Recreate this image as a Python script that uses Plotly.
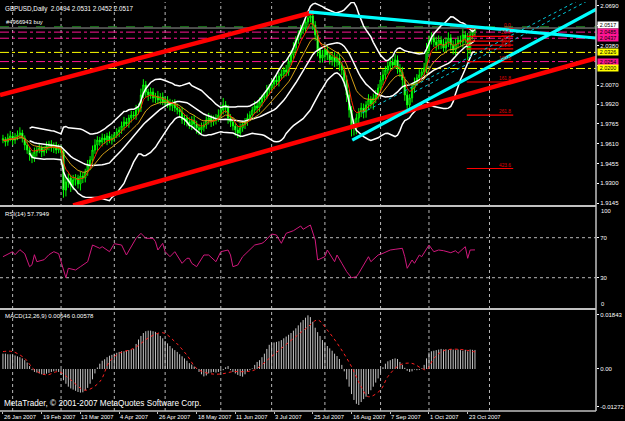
import plotly.graph_objects as go
import pandas as pd

# ---------------- DATA ----------------
date_labels = ["26 Jan 2007", "19 Feb 2007", "13 Mar 2007", "4 Apr 2007", "26 Apr 2007",
               "18 May 2007", "11 Jun 2007", "3 Jul 2007", "25 Jul 2007", "16 Aug 2007",
               "7 Sep 2007", "1 Oct 2007", "23 Oct 2007"]
date_label_bars = [0, 16, 32, 48, 64, 80, 96, 112, 128, 144, 160, 176, 192]
month_start_bars = [4, 24, 46, 67, 90, 111, 133, 156, 176, 201]

first_open = 1.9650
closes = [
    1.9639, 1.9624, 1.9655, 1.9671, 1.9639, 1.9663, 1.9679, 1.9694, 1.9655, 1.9600,
    1.9561, 1.9522, 1.9498, 1.9545, 1.9561, 1.9577, 1.9545, 1.9561, 1.9592, 1.9608,
    1.9577, 1.9600, 1.9561, 1.9577, 1.9545, 1.9247, 1.9310, 1.9342, 1.9287, 1.9326,
    1.9342, 1.9294, 1.9357, 1.9342, 1.9389, 1.9443, 1.9483, 1.9561, 1.9600, 1.9639,
    1.9624, 1.9655, 1.9639, 1.9671, 1.9639, 1.9655, 1.9679, 1.9702, 1.9718, 1.9749,
    1.9781, 1.9765, 1.9812, 1.9835, 1.9828, 1.9875, 1.9890, 1.9992, 2.0071, 2.0016,
    1.9992, 2.0016, 1.9969, 1.9984, 1.9953, 1.9977, 1.9937, 1.9953, 1.9922, 1.9906,
    1.9929, 1.9890, 1.9875, 1.9859, 1.9796, 1.9812, 1.9781, 1.9757, 1.9796, 1.9765,
    1.9734, 1.9718, 1.9741, 1.9757, 1.9796, 1.9812, 1.9781, 1.9796, 1.9812, 1.9835,
    1.9875, 1.9914, 1.9890, 1.9812, 1.9781, 1.9749, 1.9718, 1.9694, 1.9734, 1.9765,
    1.9781, 1.9812, 1.9835, 1.9875, 1.9906, 1.9890, 1.9937, 1.9969, 1.9984, 2.0031,
    2.0047, 2.0078, 2.0110, 2.0094, 2.0141, 2.0157, 2.0188, 2.0173, 2.0251, 2.0306,
    2.0361, 2.0423, 2.0463, 2.0502, 2.0517, 2.0565, 2.0596, 2.0612, 2.0541, 2.0463,
    2.0345, 2.0282, 2.0306, 2.0345, 2.0306, 2.0267, 2.0290, 2.0251, 2.0282, 2.0227,
    2.0188, 2.0110, 1.9992, 1.9875, 1.9757, 1.9734, 1.9812, 1.9859, 1.9890, 1.9859,
    1.9914, 1.9953, 1.9922, 1.9969, 1.9992, 2.0047, 2.0110, 2.0149, 2.0188, 2.0220,
    2.0251, 2.0227, 2.0267, 2.0204, 2.0173, 2.0110, 1.9992, 1.9914, 1.9969, 2.0047,
    2.0094, 2.0126, 2.0149, 2.0173, 2.0204, 2.0345, 2.0423, 2.0439, 2.0408, 2.0384,
    2.0423, 2.0392, 2.0361, 2.0408, 2.0439, 2.0384, 2.0345, 2.0392, 2.0423, 2.0408,
    2.0463, 2.0439, 2.0345, 2.0463, 2.0494, 2.0517]
wick_up_pips = [
    30, 25, 35, 40, 20, 30, 35, 45, 25, 20, 30, 25, 20, 35,
    25, 30, 20, 30, 35, 25, 30, 20, 25, 30, 20, 20, 30, 35,
    25, 40, 30, 25, 35, 30, 25, 40, 30, 35, 45, 30, 25, 35,
    30, 25, 35, 30, 20, 30, 25, 35, 40, 30, 25, 35, 30, 40,
    35, 50, 45, 30, 25, 35, 30, 25, 40, 30, 35, 25, 30, 40,
    25, 30, 35, 25, 40, 30, 25, 35, 30, 40, 25, 30, 35, 25,
    30, 40, 25, 35, 30, 45, 40, 55, 30, 25, 30, 35, 25, 30,
    35, 25, 30, 35, 30, 25, 40, 30, 35, 25, 30, 40, 30, 35,
    25, 40, 30, 35, 25, 40, 30, 35, 45, 30, 35, 40, 30, 35,
    40, 35, 45, 30, 35, 25, 40, 30, 35, 25, 30, 40, 30, 35,
    25, 30, 35, 40, 30, 45, 35, 30, 40, 35, 30, 45, 30, 35,
    40, 30, 35, 45, 30, 35, 40, 30, 45, 35, 30, 40, 25, 35,
    30, 40, 35, 30, 45, 30, 40, 55, 35, 45, 30, 40, 35, 30,
    40, 35, 45, 30, 35, 40, 30, 35, 45, 30, 40, 30, 35, 14]
wick_dn_pips = [
    25, 35, 30, 25, 40, 30, 25, 30, 35, 40, 30, 45, 40, 30,
    35, 25, 40, 30, 25, 35, 30, 40, 30, 25, 35, 60, 50, 45,
    55, 40, 45, 35, 50, 40, 35, 30, 40, 35, 30, 45, 30, 35,
    30, 40, 25, 35, 30, 25, 40, 30, 35, 25, 30, 35, 25, 30,
    35, 30, 25, 40, 45, 30, 35, 40, 30, 35, 25, 40, 30, 35,
    40, 30, 35, 45, 30, 40, 35, 30, 40, 35, 45, 40, 30, 35,
    30, 35, 40, 30, 35, 30, 25, 35, 40, 45, 40, 35, 45, 40,
    35, 30, 40, 30, 25, 35, 30, 40, 30, 35, 30, 25, 35, 30,
    40, 30, 35, 25, 30, 35, 30, 25, 30, 35, 30, 25, 30, 35,
    30, 35, 40, 45, 50, 40, 35, 45, 40, 35, 45, 40, 35, 45,
    40, 50, 55, 60, 90, 60, 50, 45, 40, 50, 45, 40, 35, 45,
    40, 35, 30, 40, 35, 30, 40, 35, 30, 45, 40, 50, 45, 40,
    45, 35, 40, 30, 35, 30, 35, 40, 30, 35, 40, 45, 35, 40,
    30, 35, 40, 45, 35, 40, 35, 30, 45, 40, 80, 35, 35, 42]

rsi_bars = [0, 4, 5, 7, 9, 11, 12, 13, 14, 17, 19, 21, 23, 26, 27, 30, 32, 35, 37, 40, 41, 44, 46, 49,
            51, 54, 55, 57, 59, 62, 63, 64, 66, 67, 69, 71, 74, 76, 77, 78, 80, 83, 85, 88, 90, 93,
            94, 95, 97, 99, 102, 104, 107, 108, 111, 113, 115, 117, 120, 123, 124, 127, 129, 130,
            133, 134, 137, 138, 140, 142, 144, 146, 147, 151, 152, 155, 157, 160, 162, 165, 166,
            167, 169, 170, 172, 173, 176, 178, 180, 182, 185, 187, 188, 191, 192, 193, 195]
rsi_vals = [51, 56, 53, 58, 54, 41, 43, 53, 46, 48, 53, 56, 54, 30, 39.4, 37.7, 41, 46, 62.7, 59.4,
            61, 56, 64, 62.7, 52.7, 64.4, 69.4, 74.4, 69.4, 69.4, 66, 57.7, 64.4, 56, 51, 56, 44.4,
            49.4, 49.4, 44.4, 41, 52.7, 52.7, 46, 56, 57.7, 52.7, 41, 42.7, 51, 57.7, 62.7, 64.4,
            66, 73.7, 72.7, 64.4, 74.4, 77, 81.7, 78.4, 82.7, 67.7, 47.7, 51, 57.7, 46, 52.7, 44.4,
            36, 30, 31, 34.4, 51, 46, 52.7, 54.4, 57.7, 58.4, 59.4, 51, 39.4, 47.7, 44.4, 52.7, 51,
            62.7, 56, 57.7, 57, 55, 57, 54.4, 61, 49.4, 57.7, 57.7949]

macd_main = [
    0.0052, 0.0052, 0.0050, 0.0050, 0.0048, 0.0046, 0.0043, 0.0040, 0.0036, 0.0030,
    0.0022, 0.0010, -0.0004, -0.0010, -0.0012, -0.0015, -0.0018, -0.0020, -0.0016, -0.0013,
    -0.0010, -0.0008, -0.0006, -0.0010, -0.0020, -0.0038, -0.0050, -0.0060, -0.0066, -0.0070,
    -0.0074, -0.0078, -0.0080, -0.0079, -0.0072, -0.0064, -0.0050, -0.0035, -0.0015, 0.0005,
    0.0018, 0.0028, 0.0033, 0.0040, 0.0045, 0.0048, 0.0052, 0.0055, 0.0058, 0.0060,
    0.0060, 0.0062, 0.0064, 0.0066, 0.0068, 0.0085, 0.0100, 0.0112, 0.0122, 0.0128,
    0.0130, 0.0130, 0.0128, 0.0126, 0.0120, 0.0112, 0.0104, 0.0095, 0.0087, 0.0078,
    0.0070, 0.0064, 0.0058, 0.0050, 0.0043, 0.0036, 0.0028, 0.0020, 0.0015, 0.0008,
    0.0002, -0.0010, -0.0018, -0.0025, -0.0022, -0.0015, -0.0012, -0.0010, -0.0012, -0.0010,
    -0.0008, -0.0004, 0.0006, 0.0010, -0.0004, -0.0010, -0.0015, -0.0020, -0.0024, -0.0026,
    -0.0018, -0.0008, -0.0004, 0.0002, 0.0014, 0.0024, 0.0030, 0.0040, 0.0052, 0.0068,
    0.0082, 0.0088, 0.0090, 0.0092, 0.0094, 0.0098, 0.0104, 0.0110, 0.0116, 0.0122,
    0.0130, 0.0138, 0.0148, 0.0158, 0.0166, 0.0174, 0.0182, 0.0176, 0.0160, 0.0140,
    0.0125, 0.0112, 0.0098, 0.0088, 0.0078, 0.0070, 0.0062, 0.0052, 0.0044, 0.0034,
    0.0014, -0.0008, -0.0035, -0.0060, -0.0085, -0.0105, -0.0118, -0.0122, -0.0112, -0.0102,
    -0.0094, -0.0085, -0.0072, -0.0060, -0.0046, -0.0032, -0.0012, 0.0006, 0.0018, 0.0026,
    0.0030, 0.0034, 0.0036, 0.0034, 0.0024, 0.0014, 0.0004, -0.0006, -0.0010, -0.0008,
    -0.0002, -0.0004, -0.0003, 0.0002, 0.0014, 0.0036, 0.0056, 0.0060, 0.0062, 0.0064,
    0.0066, 0.0068, 0.0066, 0.0067, 0.0065, 0.0068, 0.0066, 0.0064, 0.0066, 0.0064,
    0.0062, 0.0065, 0.0060, 0.0066, 0.0065, 0.00646]
signal_bars = [0, 4, 9, 13, 18, 23, 28, 34, 40, 44, 48, 54, 61, 66, 71, 76, 80, 85, 90, 95, 100,
               104, 110, 115, 121, 126, 130, 134, 139, 144, 148, 151, 156, 159, 164, 169, 173, 175,
               178, 182, 188, 195]
signal_vals = [0.0059, 0.0059, 0.0036, -0.0003, -0.0020, -0.0009, -0.0037, -0.0072, -0.0043, 0.0025,
               0.0053, 0.0070, 0.0110, 0.0123, 0.0093, 0.0047, 0.0002, -0.0015, -0.0017, -0.0009,
               -0.0009, -0.0003, 0.0036, 0.0070, 0.0110, 0.0143, 0.0166, 0.0132, 0.0076, 0.0008,
               -0.0060, -0.0094, -0.0071, -0.0026, 0.0014, 0.0019, 0.0002, -0.0003, 0.0036, 0.0062,
               0.0067, 0.00578]

# trend lines: (bar_a, price_a, bar_b, price_b)
red_channel = [(-1.22, 1.9992, 128.4, 2.0643), (29.0, 1.9127, 246.0, 2.0287)]
cyan_lines = [(126.4, 2.0643, 246.0, 2.0437), (144.3, 1.9639, 246.0, 2.0673)]
cyan_dotted = [(148.4, 1.9851, 238.1, 2.0737), (170.0, 2.0016, 242.2, 2.0737)]

# horizontal levels
order_level = 2.0527
bid_level = 2.0517
pink_levels = [2.0485, 2.0437, 2.0254]
yellow_levels = [2.0326, 2.0200]

fib_0, fib_100 = 2.0513, 2.0254
fib_levels = [0.0, 23.6, 38.2, 50.0, 61.8, 100.0, 161.8, 261.8, 423.6]
fib_bar_span = (191.6, 210.8)

price_ticks = [2.0690, 2.0535, 2.0380, 2.0225, 2.0070, 1.9920, 1.9765, 1.9610, 1.9455, 1.9300, 1.9145]
hidden_ticks = [2.0535, 2.0225]   # covered by the level boxes in the picture

# ---------------- derived ----------------
bars = list(range(len(closes)))
opens = [first_open] + closes[:-1]
highs = [max(o, c) + u / 10000 for o, c, u in zip(opens, closes, wick_up_pips)]
lows = [min(o, c) - d / 10000 for o, c, d in zip(opens, closes, wick_dn_pips)]
s = pd.Series(closes)
bb_mid = s.rolling(20, min_periods=12).mean()
bb_std = s.rolling(20, min_periods=12).std(ddof=0)
bb_up = bb_mid + 2 * bb_std
bb_lo = bb_mid - 2 * bb_std
ma_fast = s.ewm(span=5, adjust=False).mean()
ma_slow = s.ewm(span=13, adjust=False).mean()

FONT = "Liberation Sans"
PINK = "#ff1493"
YEL = "#ffff00"
GRID = "#b8b8b8"

fig = go.Figure()

fig.add_trace(go.Candlestick(
    x=bars, open=opens, high=highs, low=lows, close=closes,
    increasing=dict(line=dict(color="#00ff00", width=1), fillcolor="#000000"),
    decreasing=dict(line=dict(color="#00ff00", width=1), fillcolor="#ffffff"),
    whiskerwidth=0, xaxis="x", yaxis="y", showlegend=False, hoverinfo="skip"))

for band in (bb_up, bb_mid, bb_lo):
    fig.add_trace(go.Scatter(x=bars, y=band, mode="lines", line=dict(color="#ffffff", width=1.5),
                             xaxis="x", yaxis="y", showlegend=False, hoverinfo="skip"))
fig.add_trace(go.Scatter(x=bars, y=ma_slow, mode="lines", line=dict(color="#d4a017", width=1),
                         xaxis="x", yaxis="y", showlegend=False, hoverinfo="skip"))
fig.add_trace(go.Scatter(x=bars, y=ma_fast, mode="lines", line=dict(color="#ff2a00", width=1),
                         xaxis="x", yaxis="y", showlegend=False, hoverinfo="skip"))

# fibonacci
for lv in fib_levels:
    p = fib_0 - (fib_0 - fib_100) * lv / 100.0
    fig.add_trace(go.Scatter(x=list(fib_bar_span), y=[p, p], mode="lines",
                             line=dict(color="#ff0000", width=1.2),
                             xaxis="x", yaxis="y", showlegend=False, hoverinfo="skip"))

for (b0, p0, b1, p1) in cyan_dotted:
    fig.add_trace(go.Scatter(x=[b0, b1], y=[p0, p1], mode="lines",
                             line=dict(color="#00c8d8", width=1, dash="dot"),
                             xaxis="x", yaxis="y", showlegend=False, hoverinfo="skip"))
for (b0, p0, b1, p1) in red_channel:
    fig.add_trace(go.Scatter(x=[b0, b1], y=[p0, p1], mode="lines",
                             line=dict(color="#ff0000", width=4.5),
                             xaxis="x", yaxis="y", showlegend=False, hoverinfo="skip"))
for (b0, p0, b1, p1) in cyan_lines:
    fig.add_trace(go.Scatter(x=[b0, b1], y=[p0, p1], mode="lines",
                             line=dict(color="#00ffff", width=3.2),
                             xaxis="x", yaxis="y", showlegend=False, hoverinfo="skip"))

# RSI
fig.add_trace(go.Scatter(x=rsi_bars, y=rsi_vals, mode="lines", line=dict(color="#d0187c", width=1),
                         xaxis="x", yaxis="y2", showlegend=False, hoverinfo="skip"))
# MACD histogram as thin vertical strokes
hx, hy = [], []
for b, v in zip(bars, macd_main):
    hx += [b, b, None]
    hy += [0, v, None]
fig.add_trace(go.Scatter(x=hx, y=hy, mode="lines", line=dict(color="#c4c4c4", width=1),
                         xaxis="x", yaxis="y3", showlegend=False, hoverinfo="skip"))
fig.add_trace(go.Scatter(x=signal_bars, y=signal_vals, mode="lines",
                         line=dict(color="#ff2020", width=1, dash="dot", shape="spline"),
                         xaxis="x", yaxis="y3", showlegend=False, hoverinfo="skip"))

shapes = []
for b in month_start_bars:
    shapes.append(dict(type="line", xref="x", yref="paper", x0=b, x1=b, y0=0, y1=1,
                       line=dict(color=GRID, width=1, dash="dot"), layer="below"))
for lvl in (30, 70):
    shapes.append(dict(type="line", xref="paper", yref="y2", x0=0, x1=1, y0=lvl, y1=lvl,
                       line=dict(color=GRID, width=1, dash="dot"), layer="below"))
shapes.append(dict(type="line", xref="paper", yref="y", x0=0, x1=1, y0=order_level, y1=order_level,
                   line=dict(color="#1c8a1c", width=1.2, dash="dash"), layer="below"))
shapes.append(dict(type="line", xref="paper", yref="y", x0=0, x1=1, y0=bid_level, y1=bid_level,
                   line=dict(color="#9a9a9a", width=1), layer="below"))
for p in pink_levels:
    shapes.append(dict(type="line", xref="paper", yref="y", x0=0, x1=1, y0=p, y1=p,
                       line=dict(color=PINK, width=1, dash="dashdot"), layer="below"))
for p in yellow_levels:
    shapes.append(dict(type="line", xref="paper", yref="y", x0=0, x1=1, y0=p, y1=p,
                       line=dict(color=YEL, width=1, dash="dashdot"), layer="below"))
for yy in (0.5012, 0.2494):
    shapes.append(dict(type="line", xref="paper", yref="paper", x0=0, x1=1, y0=yy, y1=yy,
                       line=dict(color="#c0c0c0", width=2)))
shapes.append(dict(type="line", xref="paper", yref="paper", x0=1, x1=1, y0=0, y1=1.005,
                   line=dict(color="#c0c0c0", width=1.5)))
shapes.append(dict(type="line", xref="paper", yref="paper", x0=0, x1=1, y0=0, y1=0,
                   line=dict(color="#c0c0c0", width=1.5)))

ann = []
def txt(x, y, t, xref="paper", yref="paper", xanchor="left", yanchor="middle", color="#ffffff",
        size=6, bg=None, xshift=0, yshift=0, box_h=None):
    d = dict(x=x, y=y, xref=xref, yref=yref, text=t, showarrow=False, xanchor=xanchor,
             yanchor=yanchor, font=dict(family=FONT, size=size, color=color), xshift=xshift,
             yshift=yshift)
    if bg:
        d.update(bgcolor=bg, borderpad=0)
    if box_h:
        d.update(height=box_h, width=20)
    ann.append(d)

title = "GBPUSD,Daily  %.4f %.4f %.4f %.4f" % (opens[-1], highs[-1], lows[-1], closes[-1])
txt(0, 1, title, yanchor="top", xshift=3, yshift=-1, size=6.3)
txt(0, order_level, "#4966943 buy", yref="y", yanchor="bottom", xshift=4, size=5.8)
txt(0, 0.4988, "RSI(14) %.4f" % rsi_vals[-1], yanchor="top", xshift=3, yshift=-2, size=6)
txt(0, 0.2469, "MACD(12,26,9) %.5f %.5f" % (macd_main[-1], signal_vals[-1]), yanchor="top",
    xshift=3, yshift=-1, size=6)
txt(0, 0, "MetaTrader, \u00a9 2001-2007 MetaQuotes Software Corp.", yanchor="bottom", xshift=2,
    yshift=1, size=8.2)
for b, lab in zip(date_label_bars, date_labels):
    txt(b, 0, lab, xref="x", yanchor="top", xshift=-1, yshift=-1, size=5.8)
for lv in fib_levels:
    p = fib_0 - (fib_0 - fib_100) * lv / 100.0
    txt(fib_bar_span[1], p, "%.1f" % lv, xref="x", yref="y", xanchor="right", yanchor="bottom",
        color="#e00000", size=4.8, yshift=-1)
# price boxes on the right axis
txt(1, bid_level, "%.4f" % bid_level, yref="y", bg="#ffffff", color="#000000", size=5.4, xshift=1,
    yshift=3, box_h=6)
for p in pink_levels:
    txt(1, p, "%.4f" % p, yref="y", bg=PINK, color="#000000", size=5.4, xshift=1, box_h=6)
for p in yellow_levels:
    txt(1, p, "%.4f" % p, yref="y", bg=YEL, color="#000000", size=5.4, xshift=1, box_h=6)
txt(1, 100, "100", yref="y2", xshift=3, yshift=-3, size=5.8)
txt(1, 0, "0", yref="y2", xshift=3, yshift=4, size=5.8)

axis_font = dict(family=FONT, size=6, color="#ffffff")
fig.update_layout(
    width=625, height=421, margin=dict(l=0, r=21, t=2, b=10),
    paper_bgcolor="#000000", plot_bgcolor="#000000", showlegend=False,
    xaxis=dict(domain=[0, 1], anchor="y3", range=[-1.223, 245.0], showgrid=False, zeroline=False,
               showticklabels=False, ticks="outside", tickvals=date_label_bars, ticklen=2,
               tickcolor="#c0c0c0", rangeslider=dict(visible=False), fixedrange=True),
    yaxis=dict(domain=[0.5037, 1.0], anchor="x", side="right", range=[1.9130, 2.0721],
               showgrid=False, zeroline=False, tickvals=price_ticks,
               ticktext=["" if v in hidden_ticks else "%.4f" % v for v in price_ticks],
               tickfont=axis_font, ticks="outside", ticklen=2, tickcolor="#ffffff"),
    yaxis2=dict(domain=[0.2518, 0.4988], anchor="x", side="right", range=[-0.3, 100.7],
                showgrid=False, zeroline=False, tickvals=[30, 70], ticktext=["30", "70"],
                tickfont=axis_font, ticks="outside", ticklen=2, tickcolor="#ffffff"),
    yaxis3=dict(domain=[0.0, 0.2469], anchor="x", side="right", range=[-0.01424, 0.0200],
                showgrid=False, zeroline=False, tickvals=[0.01843, 0.0, -0.01272],
                ticktext=["0.01843", "0.00", "-0.01272"], tickfont=axis_font, ticks="outside",
                ticklen=2, tickcolor="#ffffff"),
    shapes=shapes, annotations=ann,
)

fig.write_html("out.html")
